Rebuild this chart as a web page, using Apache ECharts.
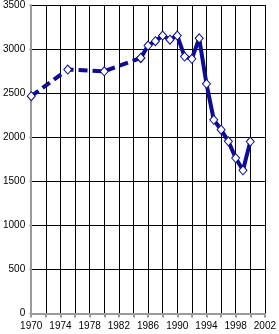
<!DOCTYPE html>
<html>
<head>
<meta charset="utf-8">
<script src="https://cdn.jsdelivr.net/npm/echarts@6/dist/echarts.min.js"></script>
<style>
  html, body { margin: 0; padding: 0; background: #fff; }
  #chart { width: 279px; height: 334px; }
</style>
</head>
<body>
<div id="chart"></div>
<script>
// early, sparse estimates (dashed)
const earlyYears = [1970, 1975, 1980, 1985]
const earlyValues = [2466, 2768, 2748, 2900]
// yearly values (solid)
const yearlyYears = [1985, 1986, 1987, 1988, 1989, 1990, 1991, 1992, 1993, 1994, 1995, 1996, 1997, 1998, 1999, 2000]
const yearlyValues = [2900, 3040, 3090, 3153, 3107, 3153, 2915, 2889, 3122, 2606, 2198, 2085, 1953, 1764, 1624, 1950]

const lineColor = '#0c0c96'
const pairs = (xs, ys) => xs.map((x, i) => [x, ys[i]])

const chart = echarts.init(document.getElementById('chart'))
chart.setOption({
  animation: false,
  textStyle: { fontFamily: 'Liberation Sans, Arial, sans-serif' },
  grid: { left: 31, right: 11, top: 4, bottom: 20.5 },
  xAxis: {
    type: 'value',
    min: 1970,
    max: 2002,
    interval: 2,
    axisLine: { lineStyle: { color: '#9a9a9a', width: 2 } },
    axisTick: { length: 4, lineStyle: { color: '#9a9a9a', width: 2 } },
    axisLabel: {
      color: '#000',
      fontSize: 10,
      margin: 8,
      formatter(v) {
        return (v - 1970) % 4 === 0 ? String(v) : ''
      },
    },
    splitLine: { show: true, lineStyle: { color: '#000', width: 1 } },
  },
  yAxis: {
    type: 'value',
    min: 0,
    max: 3500,
    interval: 500,
    axisLine: { show: true, lineStyle: { color: '#9a9a9a', width: 2 } },
    axisTick: { show: true, length: 2, lineStyle: { color: '#9a9a9a' } },
    axisLabel: {
      color: '#000',
      fontSize: 10,
      margin: 6,
      formatter(v) {
        return String(v)
      },
    },
    splitLine: { show: true, lineStyle: { color: '#000', width: 1 } },
  },
  series: [
    {
      type: 'line',
      data: pairs(earlyYears, earlyValues),
      symbol: 'diamond',
      symbolSize: [8, 9],
      itemStyle: { color: '#fff', borderColor: lineColor, borderWidth: 1 },
      lineStyle: { color: lineColor, width: 4, type: [9, 5] },
      z: 3,
    },
    {
      type: 'line',
      data: pairs(yearlyYears, yearlyValues),
      symbol: 'diamond',
      symbolSize: [8, 9],
      itemStyle: { color: '#fff', borderColor: lineColor, borderWidth: 1 },
      lineStyle: { color: lineColor, width: 4 },
      z: 4,
    },
  ],
})
</script>
</body>
</html>
